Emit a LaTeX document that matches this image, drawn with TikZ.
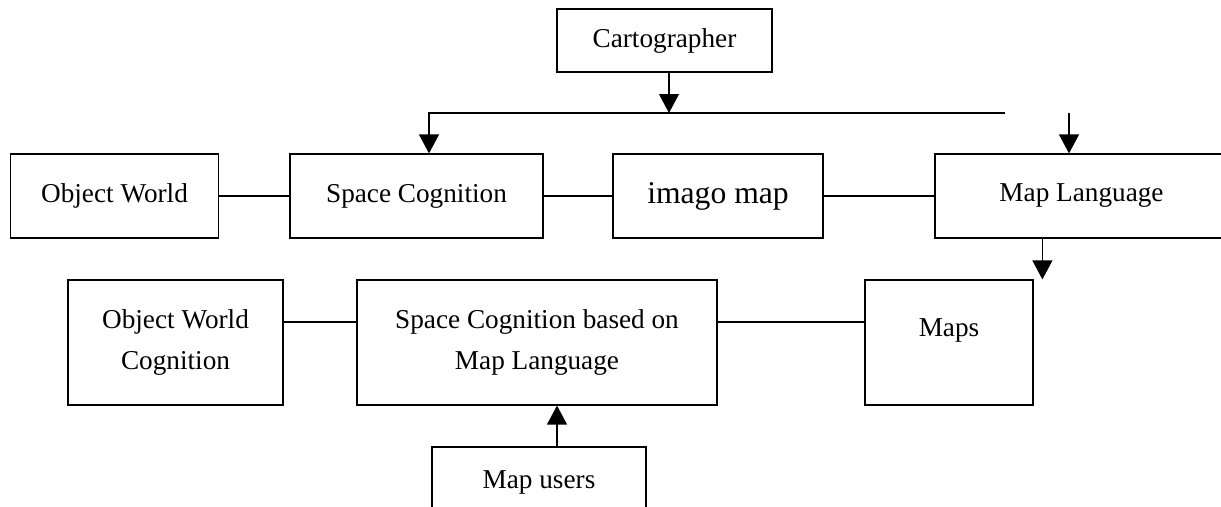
\documentclass[tikz,border=0pt]{standalone}
\usepackage{fontspec}
\setmainfont{Liberation Serif}
\usetikzlibrary{arrows.meta,positioning}

\begin{document}
\begin{tikzpicture}[
    x=0.02cm, y=-0.02cm,
    box/.style={draw, line width=0.7pt, align=center, inner sep=2pt, font=\fontsize{15.5}{23}\selectfont},
    arrow/.style={-{Triangle[length=3.8mm, width=4mm]}, line width=0.7pt},
    link/.style={line width=0.7pt}
]
\useasboundingbox (0,0) rectangle (1221,507);
\node[box, minimum width=4.3cm, minimum height=1.26cm] (carto) at (664.5,40.5) {Cartographer};
% first row
\node[box, minimum width=4.16cm, minimum height=1.68cm] (obj) at (114.5,196) {Object World};
\node[box, minimum width=5.06cm, minimum height=1.68cm] (spc) at (416.5,196) {Space Cognition};
\node[box, minimum width=4.2cm, minimum height=1.68cm, font=\fontsize{18}{22}\selectfont] (imago) at (718,196) {imago map};
\node[box, minimum width=5.86cm, minimum height=1.68cm] (maplang) at (1081.5,196) {Map Language};
% second row
\node[box, minimum width=4.3cm, minimum height=2.5cm] (owc) at (175.5,342.5) {Object World\\Cognition};
\node[box, minimum width=7.2cm, minimum height=2.5cm] (scb) at (537,342.5) {Space Cognition based on\\Map Language};
\node[box, minimum width=3.36cm, minimum height=2.5cm, text height=0.36cm, text depth=0.62cm] (maps) at (949,342.5) {Maps};
\node[box, minimum width=4.28cm, minimum height=1.4cm] (users) at (539,482) {Map users};
% connectors
\coordinate (busE) at (1005,113);
\coordinate (cartoOut) at ([xshift=0.09cm]carto.south);
\coordinate (spcIn) at ([xshift=0.25cm]spc.north);
\coordinate (mlIn) at ([xshift=-0.25cm]maplang.north);
\coordinate (mlOut) at ([xshift=2.16cm]maplang.south west);
\coordinate (usersOut) at ([xshift=0.36cm]users.north);
\draw[arrow] (cartoOut) -- (cartoOut |- busE);
\draw[arrow] (busE) -- (busE -| spcIn) -- (spcIn);
\draw[arrow] (mlIn |- busE) -- (mlIn);
\draw[link] (obj) -- (spc);
\draw[link] (spc) -- (imago);
\draw[link] (imago) -- (maplang);
\draw[arrow] (mlOut) -- (mlOut |- maps.north);
\draw[link] ([yshift=0.41cm]owc.east) -- ([yshift=0.41cm]scb.west);
\draw[link] ([yshift=0.41cm]scb.east) -- ([yshift=0.41cm]maps.west);
\draw[arrow] (usersOut) -- (usersOut |- scb.south);
\end{tikzpicture}
\end{document}
